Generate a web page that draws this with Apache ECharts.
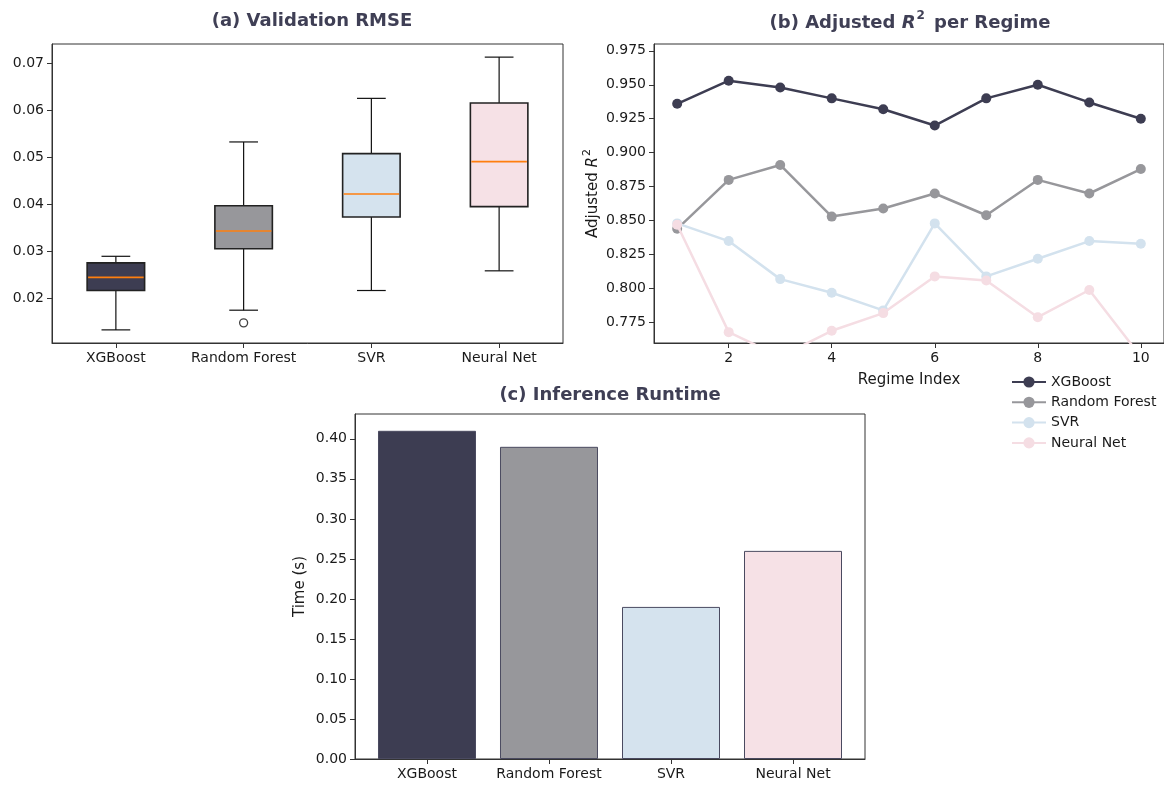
<!DOCTYPE html>
<html>
<head>
<meta charset="utf-8">
<script src="https://cdn.jsdelivr.net/npm/echarts@6/dist/echarts.min.js"></script>
<style>
  html, body { margin: 0; padding: 0; background: #ffffff; }
  #chart { width: 1164px; height: 785px; }
</style>
</head>
<body>
<div id="chart"></div>
<script>
// ---------------- DATA ----------------
const models = ['XGBoost', 'Random Forest', 'SVR', 'Neural Net'];

// (a) Validation RMSE box statistics
const rmseLow    = [0.0132, 0.0174, 0.0216, 0.0258];
const rmseQ1     = [0.0216, 0.0305, 0.0373, 0.0395];
const rmseMedian = [0.0244, 0.0343, 0.0422, 0.0491];
const rmseQ3     = [0.0275, 0.0397, 0.0508, 0.0616];
const rmseHigh   = [0.0289, 0.0533, 0.0626, 0.0714];
const rmseOutlierModel = [1];
const rmseOutlierValue = [0.0147];
const rmseTicks = [0.02, 0.03, 0.04, 0.05, 0.06, 0.07];

// (b) Adjusted R^2 per regime
const regimes = [1, 2, 3, 4, 5, 6, 7, 8, 9, 10];
const r2XGBoost      = [0.936, 0.953, 0.948, 0.940, 0.932, 0.920, 0.940, 0.950, 0.937, 0.925];
const r2RandomForest = [0.844, 0.880, 0.891, 0.853, 0.859, 0.870, 0.854, 0.880, 0.870, 0.888];
const r2SVR          = [0.848, 0.835, 0.807, 0.797, 0.784, 0.848, 0.809, 0.822, 0.835, 0.833];
const r2NeuralNet    = [0.847, 0.768, 0.750, 0.769, 0.782, 0.809, 0.806, 0.779, 0.799, 0.750];
const regimeTicks = [2, 4, 6, 8, 10];
const r2Ticks = [0.775, 0.800, 0.825, 0.850, 0.875, 0.900, 0.925, 0.950, 0.975];

// (c) Inference runtime
const runtime = [0.41, 0.39, 0.19, 0.26];
const runtimeTicks = [0.00, 0.05, 0.10, 0.15, 0.20, 0.25, 0.30, 0.35, 0.40];

// ---------------- STYLE ----------------
const FONT = 'DejaVu Sans';
const fillColors = ['#3d3d52', '#97979b', '#d5e3ee', '#f6e1e6'];
const lineColors = ['#3d3d52', '#97979b', '#d3e2ee', '#f5dde3'];
const titleColor = '#3f3f55';
const textColor = '#1a1a1a';
const spine = '#333333';
const TICK_FS = 14;
const NAME_FS = 15;
const TITLE_FS = 18;

const r2Series = [r2XGBoost, r2RandomForest, r2SVR, r2NeuralNet];

function valueAxisCommon(ticks, digits) {
  return {
    axisLine: { show: true, onZero: false, lineStyle: { color: spine, width: 1 } },
    axisTick: { show: true, length: 5, customValues: ticks, lineStyle: { color: spine } },
    axisLabel: { customValues: ticks, color: textColor, fontFamily: FONT, fontSize: TICK_FS, margin: 8,
                 formatter: v => Number(v).toFixed(digits) },
    splitLine: { show: false }
  };
}

const option = {
  animation: false,
  backgroundColor: '#ffffff',
  textStyle: { fontFamily: FONT },
  title: [
    { text: '(a) Validation RMSE', left: 307, top: 7, textAlign: 'center',
      textStyle: { fontFamily: FONT, fontSize: TITLE_FS, fontWeight: 'bold', color: titleColor } },
    { text: '{b|(b) Adjusted }{i|R}{s|2}{b| per Regime}', left: 905, top: 5, textAlign: 'center',
      textStyle: { fontFamily: FONT, fontSize: TITLE_FS, color: titleColor,
        rich: {
          b: { fontFamily: FONT, fontSize: TITLE_FS, fontWeight: 'bold', color: titleColor, lineHeight: 26 },
          i: { fontFamily: FONT, fontSize: TITLE_FS, fontStyle: 'italic', color: titleColor, lineHeight: 26 },
          s: { fontFamily: FONT, fontSize: 12, color: titleColor, verticalAlign: 'top', lineHeight: 26, padding: [0, 3, 0, 1] }
        } } },
    { text: '(c) Inference Runtime', left: 605, top: 381, textAlign: 'center',
      textStyle: { fontFamily: FONT, fontSize: TITLE_FS, fontWeight: 'bold', color: titleColor } }
  ],
  legend: {
    orient: 'vertical', left: 1006, top: 370,
    itemWidth: 34, itemHeight: 14, itemGap: 6.3,
    data: models,
    textStyle: { fontFamily: FONT, fontSize: TICK_FS, color: textColor }
  },
  grid: [
    { left: 52, top: 44, width: 511, height: 299, show: true, borderColor: spine, borderWidth: 1 },
    { left: 654, top: 44, width: 511, height: 299, show: true, borderColor: spine, borderWidth: 1 },
    { left: 355, top: 414, width: 510, height: 345, show: true, borderColor: spine, borderWidth: 1 }
  ],
  xAxis: [
    { gridIndex: 0, type: 'category', data: models, boundaryGap: true,
      axisLine: { show: true, lineStyle: { color: spine } },
      axisTick: { show: true, alignWithLabel: true, interval: 0, length: 5, lineStyle: { color: spine } },
      axisLabel: { interval: 0, color: textColor, fontFamily: FONT, fontSize: TICK_FS, margin: 8 },
      splitLine: { show: false } },
    Object.assign({ gridIndex: 1, type: 'value', min: 0.55, max: 10.45,
      name: 'Regime Index', nameLocation: 'middle', nameGap: 30,
      nameTextStyle: { fontFamily: FONT, fontSize: NAME_FS, color: textColor } },
      valueAxisCommon(regimeTicks, 0)),
    Object.assign({ gridIndex: 2, type: 'value', min: -0.59, max: 3.59 },
      valueAxisCommon([0, 1, 2, 3], 0),
      { axisLabel: { customValues: [0, 1, 2, 3], color: textColor, fontFamily: FONT, fontSize: TICK_FS, margin: 8,
                     formatter: v => models[Math.round(v)] } })
  ],
  yAxis: [
    Object.assign({ gridIndex: 0, type: 'value', min: 0.0104, max: 0.0742 }, valueAxisCommon(rmseTicks, 2)),
    Object.assign({ gridIndex: 1, type: 'value', min: 0.76, max: 0.98,
      name: '{n|Adjusted }{i|R}{s|2}', nameLocation: 'middle', nameGap: 50,
      nameTextStyle: { fontFamily: FONT, fontSize: NAME_FS, color: textColor,
        rich: {
          n: { fontFamily: FONT, fontSize: NAME_FS, color: textColor, lineHeight: 22 },
          i: { fontFamily: FONT, fontSize: NAME_FS, fontStyle: 'italic', color: textColor, lineHeight: 22 },
          s: { fontFamily: FONT, fontSize: 11, color: textColor, verticalAlign: 'top', lineHeight: 22, padding: [0, 0, 0, 1] }
        } } },
      valueAxisCommon(r2Ticks, 3)),
    Object.assign({ gridIndex: 2, type: 'value', min: 0, max: 0.431,
      name: 'Time (s)', nameLocation: 'middle', nameGap: 47,
      nameTextStyle: { fontFamily: FONT, fontSize: NAME_FS, color: textColor } },
      valueAxisCommon(runtimeTicks, 2))
  ],
  series: []
};

// (a) box plot via custom series
option.series.push({
  name: 'RMSE', type: 'custom', xAxisIndex: 0, yAxisIndex: 0,
  encode: { x: 0, y: [1, 2, 3, 4, 5] },
  data: models.map((m, i) => [i, rmseLow[i], rmseQ1[i], rmseMedian[i], rmseQ3[i], rmseHigh[i]]),
  renderItem: function (params, api) {
    const i = api.value(0);
    const pLow = api.coord([i, api.value(1)]);
    const pQ1 = api.coord([i, api.value(2)]);
    const pMed = api.coord([i, api.value(3)]);
    const pQ3 = api.coord([i, api.value(4)]);
    const pHigh = api.coord([i, api.value(5)]);
    const bw = api.size([1, 0])[0] * 0.45;
    const cx = pLow[0];
    const wStyle = { stroke: '#111', lineWidth: 1.2 };
    return {
      type: 'group',
      children: [
        { type: 'line', shape: { x1: cx, y1: pLow[1], x2: cx, y2: pQ1[1] }, style: wStyle },
        { type: 'line', shape: { x1: cx, y1: pQ3[1], x2: cx, y2: pHigh[1] }, style: wStyle },
        { type: 'line', shape: { x1: cx - bw / 4, y1: pLow[1], x2: cx + bw / 4, y2: pLow[1] }, style: wStyle },
        { type: 'line', shape: { x1: cx - bw / 4, y1: pHigh[1], x2: cx + bw / 4, y2: pHigh[1] }, style: wStyle },
        { type: 'rect', shape: { x: cx - bw / 2, y: pQ3[1], width: bw, height: pQ1[1] - pQ3[1] },
          style: { fill: fillColors[i], stroke: '#222', lineWidth: 1.6 } },
        { type: 'line', shape: { x1: cx - bw / 2 + 1, y1: pMed[1], x2: cx + bw / 2 - 1, y2: pMed[1] },
          style: { stroke: '#ff7f0e', lineWidth: 1.6 } }
      ]
    };
  }
});
option.series.push({
  name: 'RMSE outliers', type: 'scatter', xAxisIndex: 0, yAxisIndex: 0,
  data: rmseOutlierModel.map((m, k) => [m, rmseOutlierValue[k]]),
  symbol: 'circle', symbolSize: 8,
  itemStyle: { color: '#ffffff', borderColor: '#111', borderWidth: 1.3 }
});

// (b) line series
models.forEach((m, k) => {
  option.series.push({
    name: m, type: 'line', xAxisIndex: 1, yAxisIndex: 1,
    data: regimes.map((r, j) => [r, r2Series[k][j]]),
    symbol: 'circle', symbolSize: 10, showSymbol: true, clip: true,
    lineStyle: { color: lineColors[k], width: 2.5 },
    itemStyle: { color: lineColors[k] },
    z: 2 + k
  });
});

// (c) bars
option.series.push({
  name: 'Runtime', type: 'bar', xAxisIndex: 2, yAxisIndex: 2,
  barWidth: 98,
  data: runtime.map((v, i) => ({ value: [i, v], itemStyle: { color: fillColors[i], borderColor: '#4a4a60', borderWidth: 1 } }))
});

const chart = echarts.init(document.getElementById('chart'), null, { renderer: 'canvas' });
chart.setOption(option);
</script>
</body>
</html>
